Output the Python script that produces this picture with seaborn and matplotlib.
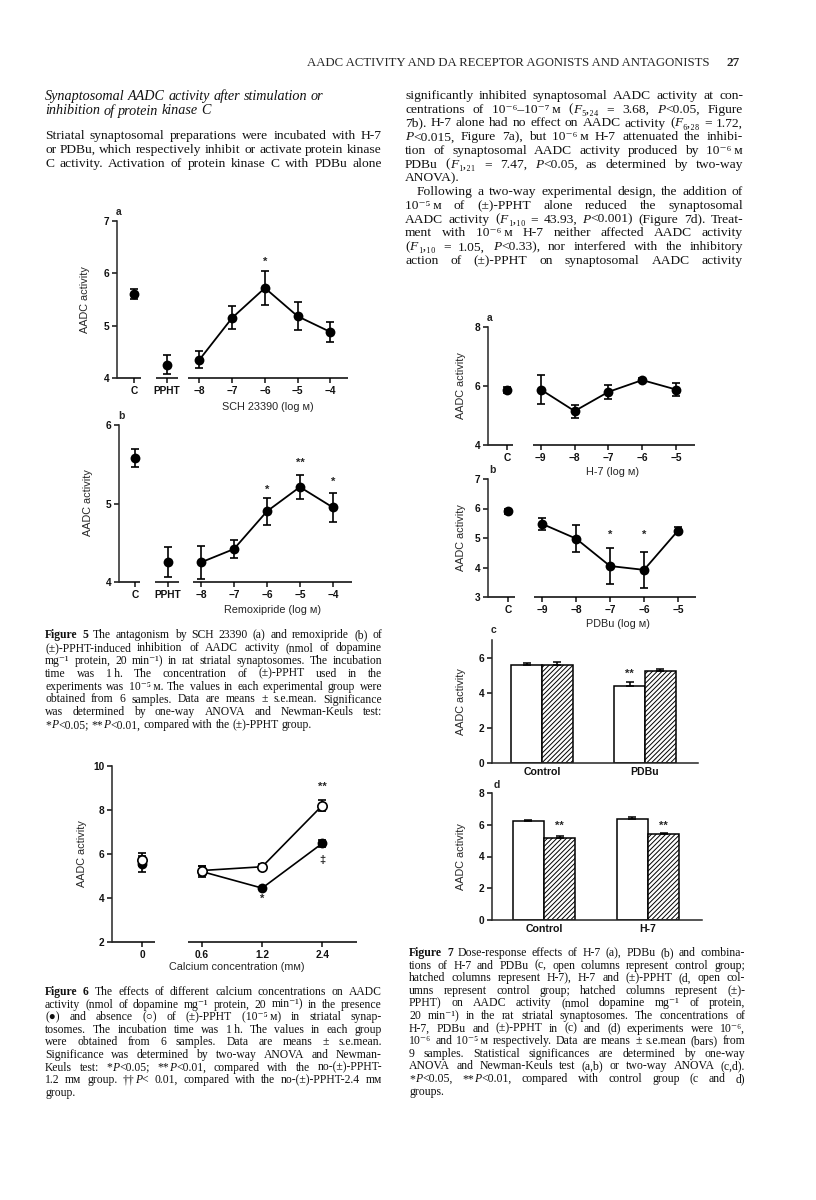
import numpy as np
import pandas as pd
import seaborn as sns
import matplotlib.pyplot as plt

# ---------------- data ----------------
# Figure 5 (a: SCH 23390, b: remoxipride); first two points are C and PPHT
fig5_labels = ['C', 'PPHT', '\u22128', '\u22127', '\u22126', '\u22125', '\u22124']
fig5a_mean = [5.6, 4.25, 4.35, 5.15, 5.72, 5.18, 4.88]
fig5a_sem = [0.1, 0.18, 0.16, 0.22, 0.33, 0.27, 0.19]
fig5a_stars = ['', '', '', '', '*', '', '']
fig5a_star_y = [0, 0, 0, 0, 6.22, 0, 0]
fig5b_mean = [5.58, 4.25, 4.25, 4.42, 4.9, 5.21, 4.95]
fig5b_sem = [0.11, 0.19, 0.21, 0.11, 0.17, 0.15, 0.19]
fig5b_stars = ['', '', '', '', '*', '**', '*']
fig5b_star_y = [0, 0, 0, 0, 5.17, 5.52, 5.27]

# Figure 6: calcium concentration, with (filled) / without (open) PPHT
fig6_labels = ['0', '0.6', '1.2', '2.4']
fig6_ppht_mean = [5.55, 5.2, 4.45, 6.48]
fig6_ppht_sem = [0.35, 0.25, 0.06, 0.15]
fig6_ctrl_mean = [5.75, 5.25, 5.42, 8.2]
fig6_ctrl_sem = [0.3, 0.2, 0.12, 0.25]

# Figure 7 a/b: H-7 and PDBu dose-response
fig7_labels = ['C', '\u22129', '\u22128', '\u22127', '\u22126', '\u22125']
fig7a_mean = [5.85, 5.88, 5.15, 5.8, 6.2, 5.88]
fig7a_sem = [0.1, 0.48, 0.22, 0.25, 0.07, 0.22]
fig7b_mean = [5.9, 5.48, 4.98, 4.05, 3.92, 5.25]
fig7b_sem = [0.1, 0.2, 0.45, 0.62, 0.6, 0.12]
fig7b_stars = ['', '', '', '*', '*', '']
fig7b_star_y = [0, 0, 0, 5.1, 5.1, 0]

# Figure 7 c/d: bars (open = control, hatched = treatment)
fig7c_groups = ['Control', 'PDBu']
fig7c_open = [5.55, 4.4]
fig7c_open_sem = [0.15, 0.2]
fig7c_hatch = [5.58, 5.22]
fig7c_hatch_sem = [0.15, 0.15]
fig7d_groups = ['Control', 'H-7']
fig7d_open = [6.25, 6.38]
fig7d_open_sem = [0.08, 0.08]
fig7d_hatch = [5.15, 5.4]
fig7d_hatch_sem = [0.15, 0.05]

# ---------------- page text ----------------
# markup: '!' at the start of a word = bold, text between '~' = italic
header = 'AADC ACTIVITY AND DA RECEPTOR AGONISTS AND ANTAGONISTS'
title_lines = ['Synaptosomal AADC activity after stimulation or',
               'inhibition of protein kinase C']
left_body = ['Striatal synaptosomal preparations were incubated with H-7',
             'or PDBu, which respectively inhibit or activate protein kinase',
             'C activity. Activation of protein kinase C with PDBu alone']
right_body = [
    'significantly inhibited synaptosomal AADC activity at con-',
    'centrations of 10⁻⁶–10⁻⁷\u2009м (~F~₅,₂₄ = 3.68, ~P~<0.05, Figure',
    '7b). H-7 alone had no effect on AADC activity (~F~₆,₂₈ = 1.72,',
    '~P~<0.015, Figure 7a), but 10⁻⁶\u2009м H-7 attenuated the inhibi-',
    'tion of synaptosomal AADC activity produced by 10⁻⁶\u2009м',
    'PDBu (~F~₁,₂₁ = 7.47, ~P~<0.05, as determined by two-way',
    'ANOVA).',
    'Following a two-way experimental design, the addition of',
    '10⁻⁵\u2009м of (±)-PPHT alone reduced the synaptosomal',
    'AADC activity (~F~₁,₁₀ = 43.93, ~P~<0.001) (Figure 7d). Treat-',
    'ment with 10⁻⁶\u2009м H-7 neither affected AADC activity',
    '(~F~₁,₁₀ = 1.05, ~P~<0.33), nor interfered with the inhibitory',
    'action of (±)-PPHT on synaptosomal AADC activity',
]
cap5 = [
    '!Figure !5  The antagonism by SCH 23390 (a) and remoxipride (b) of',
    '(±)-PPHT-induced inhibition of AADC activity (nmol of dopamine',
    'mg⁻¹ protein, 20 min⁻¹) in rat striatal synaptosomes. The incubation',
    'time was 1\u2009h. The concentration of (±)-PPHT used in the',
    'experiments was 10⁻⁵\u2009м. The values in each experimental group were',
    'obtained from 6 samples. Data are means ± s.e.mean. Significance',
    'was determined by one-way ANOVA and Newman-Keuls test:',
    '*~P~<0.05; **~P~<0.01, compared with the (±)-PPHT group.',
]
cap6 = [
    '!Figure !6  The effects of different calcium concentrations on AADC',
    'activity (nmol of dopamine mg⁻¹ protein, 20 min⁻¹) in the presence',
    '(●) and absence (○) of (±)-PPHT (10⁻⁵\u2009м) in striatal synap-',
    'tosomes. The incubation time was 1\u2009h. The values in each group',
    'were obtained from 6 samples. Data are means ± s.e.mean.',
    'Significance was determined by two-way ANOVA and Newman-',
    'Keuls test: *~P~<0.05; **~P~<0.01, compared with the no-(±)-PPHT-',
    '1.2 mм group. ††~P~< 0.01, compared with the no-(±)-PPHT-2.4 mм',
    'group.',
]
cap7 = [
    '!Figure !7  Dose-response effects of H-7 (a), PDBu (b) and combina-',
    'tions of H-7 and PDBu (c, open columns represent control group;',
    'hatched columns represent H-7), H-7 and (±)-PPHT (d, open col-',
    'umns represent control group; hatched columns represent (±)-',
    'PPHT) on AADC activity (nmol dopamine mg⁻¹ of protein,',
    '20 min⁻¹) in the rat striatal synaptosomes. The concentrations of',
    'H-7, PDBu and (±)-PPHT in (c) and (d) experiments were 10⁻⁶,',
    '10⁻⁶ and 10⁻⁵\u2009м respectively. Data are means ± s.e.mean (bars) from',
    '9 samples. Statistical significances are determined by one-way',
    'ANOVA and Newman-Keuls test (a,b) or two-way ANOVA (c,d).',
    '*~P~<0.05, **~P~<0.01, compared with control group (c and d)',
    'groups.',
]

sns.set_theme(style='ticks')
plt.rcParams['font.family'] = ['Liberation Sans', 'DejaVu Sans']
plt.rcParams['hatch.linewidth'] = 0.7
plt.rcParams['axes.linewidth'] = 1.1

W, H = 816, 1200
fig = plt.figure(figsize=(W / 100, H / 100), dpi=100)
fig.patch.set_facecolor('white')
renderer = fig.canvas.get_renderer()
SERIF = ['Liberation Serif', 'DejaVu Serif', 'DejaVu Sans']


def px_axes(left, top, right, bottom):
    return fig.add_axes([left / W, 1 - bottom / H, (right - left) / W, (bottom - top) / H])


def ptext(x, y, s, **kw):
    return fig.text(x / W, 1 - y / H, s, **kw)


def make_word(tok, size, style):
    weight = 'normal'
    if tok.startswith('!'):
        tok, weight = tok[1:], 'bold'
    parts = []
    for k, seg in enumerate(tok.split('~')):
        if seg == '':
            continue
        st = 'italic' if (k % 2 == 1 or style == 'italic') else 'normal'
        parts.append(fig.text(0, 0, seg, fontsize=size, family=SERIF, fontweight=weight,
                              style=st, va='baseline', ha='left', color='#111111'))
    return parts


def word_width(parts):
    return sum(p.get_window_extent(renderer).width for p in parts)


def set_line(line, x0, x1, y, size, justify=True, indent=0, style='normal'):
    words = [make_word(tok, size, style) for tok in line.split(' ') if tok != '']
    widths = [word_width(w) for w in words]
    start = x0 + indent
    avail = x1 - start
    n = len(words)
    min_gap = size * 100 / 72 * 0.2
    # squeeze an over-long line a little instead of letting words collide
    if n > 1 and sum(widths) + min_gap * (n - 1) > avail:
        k = (avail - min_gap * (n - 1)) / sum(widths)
        for w in words:
            for p in w:
                p.set_fontsize(size * k)
        widths = [word_width(w) for w in words]
    gap = size * 100 / 72 * 0.25
    if justify and n > 1:
        gap = (avail - sum(widths)) / (n - 1)
    x = start
    for w, wd in zip(words, widths):
        px = x
        for p in w:
            p.set_position((px / W, 1 - y / H))
            px += p.get_window_extent(renderer).width
        x += wd + gap


def style_axis(ax, xlim, ylim, yticks):
    ax.set_xlim(xlim)
    ax.set_ylim(ylim)
    ax.set_yticks(yticks)
    ax.set_xlabel('')
    ax.set_ylabel('')
    ax.set_facecolor('none')
    ax.tick_params(direction='out', length=3.5, width=1.1, labelsize=7.3, pad=2, colors='#111111')
    for lab in ax.get_xticklabels() + ax.get_yticklabels():
        lab.set_fontweight('bold')


def broken_base(ax, segs, y0):
    ax.spines['bottom'].set_visible(False)
    for a, b in segs:
        ax.plot([a, b], [y0, y0], color='black', lw=1.1, clip_on=False, solid_capstyle='butt')


def dose_panel(box, labels, mean, sem, n_single, xlim, ylim, yticks, segs):
    ax = px_axes(*box)
    pos = np.arange(len(labels))
    df = pd.DataFrame({'pos': pos, 'val': mean})
    sns.lineplot(data=df.iloc[n_single:], x='pos', y='val', color='black', linewidth=1.3, ax=ax)
    ax.errorbar(pos, mean, yerr=sem, fmt='none', ecolor='black', elinewidth=1.2,
                capsize=3, capthick=1.2, zorder=3)
    sns.scatterplot(data=df, x='pos', y='val', color='black', s=50, linewidth=0, zorder=4, ax=ax)
    sns.despine(ax=ax)
    ax.set_xticks(pos, labels)
    style_axis(ax, xlim, ylim, yticks)
    broken_base(ax, segs, ylim[0])
    return ax


def add_stars(ax, stars, ys):
    for i, (s, y) in enumerate(zip(stars, ys)):
        if s:
            ax.text(i, y, s, ha='center', va='center', fontsize=8, fontweight='bold')


def bar_panel(box, groups, open_v, open_e, hatch_v, hatch_e, xlim, ylim, yticks):
    ax = px_axes(*box)
    df = pd.DataFrame({'group': groups * 2,
                       'kind': ['open'] * len(groups) + ['hatched'] * len(groups),
                       'val': open_v + hatch_v})
    sns.barplot(data=df, x='group', y='val', hue='kind', palette=['white', 'white'],
                edgecolor='black', linewidth=1.1, width=0.6, errorbar=None,
                legend=False, saturation=1, ax=ax)
    errs = [open_e, hatch_e]
    bar_sets = list(ax.containers)[:2]
    for k, cont in enumerate(bar_sets):
        for bar, e in zip(cont, errs[k]):
            if k == 1:
                bar.set_hatch('///////')
            cx = bar.get_x() + bar.get_width() / 2
            ax.errorbar(cx, bar.get_height(), yerr=[[0], [e]], fmt='none', ecolor='black',
                        elinewidth=1.1, capsize=3.2, capthick=1.1)
    sns.despine(ax=ax)
    style_axis(ax, xlim, ylim, yticks)
    ax.tick_params(axis='x', length=0, pad=3, labelsize=7.6)
    return ax


def label_panel(letter, lx, ly, xlabel=None, xl_pos=None, ylab_x=None, ylab_y=None):
    ptext(lx, ly, letter, fontsize=7.5, fontweight='bold', ha='left', va='center')
    if xlabel:
        ptext(xl_pos[0], xl_pos[1], xlabel, fontsize=7.8, ha='center', va='center')
    ptext(ylab_x, ylab_y, 'AADC activity', fontsize=7.8, rotation=90, ha='center', va='center')


# ---------------- Figure 5 ----------------
ax5a = dose_panel((117, 221, 348, 378), fig5_labels, fig5a_mean, fig5a_sem, 2,
                  (-0.52, 6.54), (4, 7), [4, 5, 6, 7],
                  [(-0.52, 0.22), (0.66, 1.34), (1.66, 6.54)])
add_stars(ax5a, fig5a_stars, fig5a_star_y)
label_panel('a', 116, 212, 'SCH 23390 (log м)', (268, 407), 85, 300)

ax5b = dose_panel((119, 425, 352, 582), fig5_labels, fig5b_mean, fig5b_sem, 2,
                  (-0.485, 6.58), (4, 6), [4, 5, 6],
                  [(-0.485, 0.15), (0.6, 1.33), (1.76, 6.58)])
add_stars(ax5b, fig5b_stars, fig5b_star_y)
label_panel('b', 118, 416, 'Remoxipride (log м)', (273, 610), 88, 503)

# ---------------- Figure 6 ----------------
ax6 = px_axes(112, 766, 357, 942)
pos6 = np.arange(len(fig6_labels))
df6 = pd.DataFrame({'pos': np.concatenate([pos6, pos6]),
                    'val': fig6_ctrl_mean + fig6_ppht_mean,
                    'grp': ['ctrl'] * 4 + ['ppht'] * 4})
sns.lineplot(data=df6[df6.pos > 0], x='pos', y='val', units='grp', estimator=None,
             color='black', linewidth=1.2, ax=ax6)
ax6.errorbar(pos6, fig6_ppht_mean, yerr=fig6_ppht_sem, fmt='none', ecolor='black',
             elinewidth=1.2, capsize=3, capthick=1.2, zorder=3)
ax6.errorbar(pos6, fig6_ctrl_mean, yerr=fig6_ctrl_sem, fmt='none', ecolor='black',
             elinewidth=1.2, capsize=3, capthick=1.2, zorder=3)
sns.scatterplot(data=df6[df6.grp == 'ppht'], x='pos', y='val', color='black', s=50,
                linewidth=0, zorder=4, ax=ax6)
sns.scatterplot(data=df6[df6.grp == 'ctrl'], x='pos', y='val', color='white', s=45,
                edgecolor='black', linewidth=1.2, zorder=5, ax=ax6)
sns.despine(ax=ax6)
ax6.set_xticks(pos6, fig6_labels)
style_axis(ax6, (-0.5, 3.58), (2, 10), [2, 4, 6, 8, 10])
broken_base(ax6, [(-0.5, 0.22), (0.77, 3.58)], 2)
ax6.text(3, 9.05, '**', ha='center', va='center', fontsize=8, fontweight='bold')
ax6.text(2, 3.95, '*', ha='center', va='center', fontsize=8, fontweight='bold')
ax6.text(3, 5.75, '‡', ha='center', va='center', fontsize=8, fontweight='bold')
ptext(237, 967, 'Calcium concentration (mм)', fontsize=7.8, ha='center', va='center')
ptext(82, 854, 'AADC activity', fontsize=7.8, rotation=90, ha='center', va='center')

# ---------------- Figure 7 ----------------
dose_panel((488, 327, 695, 445), fig7_labels, fig7a_mean, fig7a_sem, 1,
           (-0.56, 5.56), (4, 8), [4, 6, 8], [(-0.56, 0.18), (0.76, 5.56)])
label_panel('a', 487, 318, 'H-7 (log м)', (613, 472), 461, 386)

ax7b = dose_panel((488, 479, 696, 597), fig7_labels, fig7b_mean, fig7b_sem, 1,
                  (-0.59, 5.53), (3, 7), [3, 4, 5, 6, 7], [(-0.59, 0.2), (0.76, 5.53)])
add_stars(ax7b, fig7b_stars, fig7b_star_y)
label_panel('b', 489, 470, 'PDBu (log м)', (618, 624), 461, 538)

ax7c = bar_panel((492, 640, 698, 763), fig7c_groups, fig7c_open, fig7c_open_sem,
                 fig7c_hatch, fig7c_hatch_sem, (-0.485, 1.515), (0, 7), [0, 2, 4, 6])
ax7c.text(0.85, 5.1, '**', ha='center', va='center', fontsize=8, fontweight='bold')
label_panel('c', 491, 630, ylab_x=461, ylab_y=702)

ax7d = bar_panel((492, 793, 702, 920), fig7d_groups, fig7d_open, fig7d_open_sem,
                 fig7d_hatch, fig7d_hatch_sem, (-0.5, 1.52), (0, 8), [0, 2, 4, 6, 8])
for gx in [0.15, 1.15]:
    ax7d.text(gx, 5.9, '**', ha='center', va='center', fontsize=8, fontweight='bold')
label_panel('d', 494, 785, ylab_x=461, ylab_y=857)

# ---------------- page text ----------------
hd = ptext(307, 66, header, fontsize=8.5, family=SERIF, ha='left', va='baseline')
hd.set_fontsize(8.5 * (712 - 307) / hd.get_window_extent(renderer).width)
ptext(740, 66, '27', fontsize=9.5, family=SERIF, fontweight='bold', ha='right', va='baseline')

for i, line in enumerate(title_lines):
    set_line(line, 45, 337, 100 + 14.5 * i, 10.2, justify=False, style='italic')

for i, line in enumerate(left_body):
    set_line(line, 45, 382, 139 + 14 * i, 9.7)
for i, line in enumerate(right_body):
    set_line(line, 405, 743, 99 + 13.75 * i, 9.7,
             justify=(i != 6), indent=(12 if i == 7 else 0))

for i, line in enumerate(cap5):
    set_line(line, 45, 382, 638 + 12.9 * i, 8.4, justify=(i != len(cap5) - 1))
for i, line in enumerate(cap6):
    set_line(line, 45, 382, 995 + 12.6 * i, 8.4, justify=(i != len(cap6) - 1))
for i, line in enumerate(cap7):
    set_line(line, 409, 745, 956 + 12.6 * i, 8.5, justify=(i != len(cap7) - 1))

fig.savefig('out.png', dpi=100, facecolor='white')
